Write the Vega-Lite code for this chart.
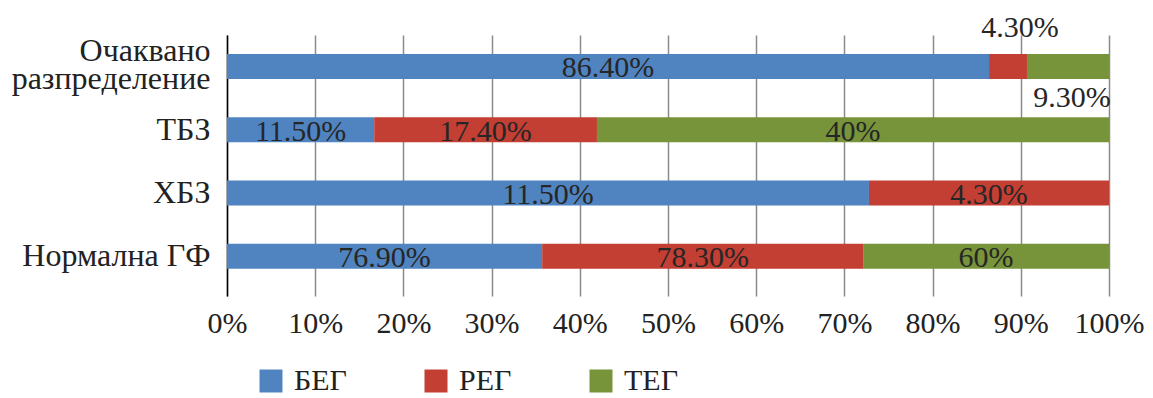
{
  "$schema": "https://vega.github.io/schema/vega-lite/v6.json",
  "width": 882,
  "height": 261,
  "autosize": {"type": "none"},
  "padding": {"left": 227, "top": 35, "right": 44, "bottom": 102},
  "background": "white",
  "config": {
    "view": {"stroke": null},
    "font": "Liberation Serif",
    "text": {"font": "Liberation Serif"}
  },
  "data": {
    "values": [
      {"group": "Очаквано разпределение", "series": "БЕГ", "value": 86.4, "label": "86.40%"},
      {"group": "Очаквано разпределение", "series": "РЕГ", "value": 4.3, "label": "4.30%"},
      {"group": "Очаквано разпределение", "series": "ТЕГ", "value": 9.3, "label": "9.30%"},
      {"group": "ТБЗ", "series": "БЕГ", "value": 11.5, "label": "11.50%"},
      {"group": "ТБЗ", "series": "РЕГ", "value": 17.4, "label": "17.40%"},
      {"group": "ТБЗ", "series": "ТЕГ", "value": 40, "label": "40%"},
      {"group": "ХБЗ", "series": "БЕГ", "value": 11.5, "label": "11.50%"},
      {"group": "ХБЗ", "series": "РЕГ", "value": 4.3, "label": "4.30%"},
      {"group": "Нормална ГФ", "series": "БЕГ", "value": 76.9, "label": "76.90%"},
      {"group": "Нормална ГФ", "series": "РЕГ", "value": 78.3, "label": "78.30%"},
      {"group": "Нормална ГФ", "series": "ТЕГ", "value": 60, "label": "60%"}
    ]
  },
  "encoding": {
    "y": {
      "field": "group",
      "type": "nominal",
      "sort": null,
      "scale": {"paddingInner": 0.605, "paddingOuter": 0.364, "align": 0.41},
      "axis": {
        "title": null,
        "ticks": false,
        "domain": true,
        "domainColor": "#000000",
        "domainWidth": 1.5,
        "labelFont": "Liberation Serif",
        "labelFontSize": 32,
        "labelColor": "#222222",
        "labelPadding": 17,
        "labelLimit": 400,
        "labelLineHeight": 28,
        "labelOffset": {"condition": {"test": "datum.value == 'Очаквано разпределение'", "value": -15}, "value": 0},
        "labelExpr": "datum.label == 'Очаквано разпределение' ? ['Очаквано', 'разпределение'] : (datum.label == 'ХБЗ' ? datum.label : datum.label + '\u00a0\u00a0')"
      }
    }
  },
  "layer": [
    {
      "mark": {"type": "bar"},
      "encoding": {
        "x": {
          "field": "value",
          "type": "quantitative",
          "stack": "normalize",
          "scale": {"domain": [0, 1], "nice": false},
          "axis": {
            "title": null,
            "format": ".0%",
            "values": [0, 0.1, 0.2, 0.3, 0.4, 0.5, 0.6, 0.7, 0.8, 0.9, 1],
            "domain": false,
            "ticks": false,
            "grid": true,
            "gridColor": "#8a8a8a",
            "gridWidth": 1.5,
            "labelFont": "Liberation Serif",
            "labelFontSize": 30,
            "labelColor": "#222222",
            "labelPadding": 12,
            "labelFlush": false
          }
        },
        "order": {"field": "series", "sort": "ascending"},
        "color": {
          "field": "series",
          "type": "nominal",
          "scale": {"domain": ["БЕГ", "РЕГ", "ТЕГ"], "range": ["#5084C1", "#C33E33", "#77943A"]},
          "legend": {
            "title": null,
            "orient": "none",
            "direction": "horizontal",
            "legendX": 29,
            "legendY": 331,
            "padding": 0,
            "symbolType": "square",
            "symbolSize": 529,
            "symbolStrokeWidth": 0,
            "symbolOpacity": 1,
            "labelFont": "Liberation Serif",
            "labelFontSize": 30,
            "labelColor": "#222222",
            "labelOffset": 8,
            "columnPadding": 74
          }
        }
      }
    },
    {
      "mark": {"type": "text", "fontSize": 30, "color": "#262626", "baseline": "middle", "dy": 2},
      "encoding": {
        "x": {"field": "value", "type": "quantitative", "stack": "normalize", "bandPosition": 0.5},
        "detail": {"field": "series"},
        "order": {"field": "series", "sort": "ascending"},
        "text": {
          "condition": {"test": "datum.group != 'Очаквано разпределение' || datum.series == 'БЕГ'", "field": "label"},
          "value": ""
        }
      }
    },
    {
      "mark": {"type": "text", "fontSize": 30, "color": "#262626", "baseline": "middle", "dy": -38, "dx": 12},
      "encoding": {
        "x": {"field": "value", "type": "quantitative", "stack": "normalize", "bandPosition": 0.5},
        "detail": {"field": "series"},
        "order": {"field": "series", "sort": "ascending"},
        "text": {
          "condition": {"test": "datum.group == 'Очаквано разпределение' && datum.series == 'РЕГ'", "field": "label"},
          "value": ""
        }
      }
    },
    {
      "mark": {"type": "text", "fontSize": 30, "color": "#262626", "baseline": "middle", "dy": 32, "dx": 4},
      "encoding": {
        "x": {"field": "value", "type": "quantitative", "stack": "normalize", "bandPosition": 0.5},
        "detail": {"field": "series"},
        "order": {"field": "series", "sort": "ascending"},
        "text": {
          "condition": {"test": "datum.group == 'Очаквано разпределение' && datum.series == 'ТЕГ'", "field": "label"},
          "value": ""
        }
      }
    }
  ]
}
